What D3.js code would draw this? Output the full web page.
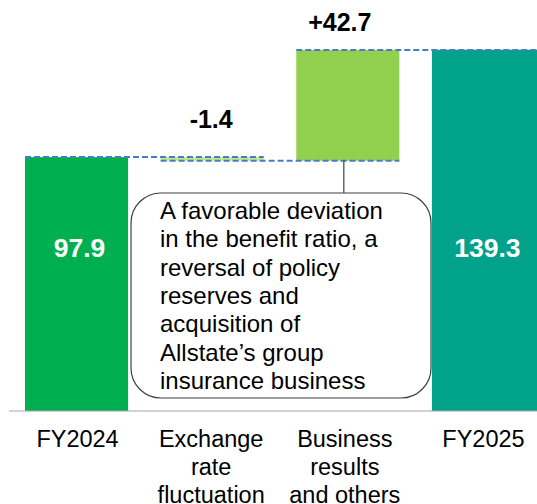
<!DOCTYPE html>
<html>
<head>
<meta charset="utf-8">
<script src="https://cdn.jsdelivr.net/npm/d3@7"></script>
<style>
  body { margin: 0; background: #fff; }
  svg { display: block; font-family: "Liberation Sans", Arial, sans-serif; }
</style>
</head>
<body>
<svg></svg>
<script>
// Data =======================================================================

const categories = ["FY2024", "Exchange rate fluctuation", "Business results and others", "FY2025"];
const catLines = [["FY2024"], ["Exchange", "rate", "fluctuation"], ["Business", "results", "and others"], ["FY2025"]];
const values = [97.9, -1.4, 42.7, 139.3];
const kinds = ["total", "delta", "delta", "total"];
const valueLabels = ["97.9", "-1.4", "+42.7", "139.3"];
const noteLines = ["A favorable deviation", "in the benefit ratio, a", "reversal of policy",
  "reserves and", "acquisition of", "Allstate\u2019s group", "insurance business"];

// Setup ======================================================================

const width = 537, height = 504;
const svg = d3.select("svg").attr("width", width).attr("height", height);

const x = d3.scaleBand()
  .domain(categories)
  .range([25, 535])
  .paddingInner(0.24)
  .paddingOuter(0);

const y = d3.scaleLinear()
  .domain([0, 150])
  .range([411, 22]);

// work out start/end for each step of the waterfall
let running = 0;
const steps = categories.map((c, i) => {
  let start, end;
  if (kinds[i] === "total") { start = 0; end = values[i]; running = values[i]; }
  else { start = running; end = running + values[i]; running = end; }
  return { cat: c, start, end, i };
});

const colors = ["#00B050", "#C0E88A", "#92D050", "#00A28A"];

// Bars =======================================================================

svg.selectAll("rect.bar")
  .data(steps)
  .enter()
  .append("rect")
  .attr("class", "bar")
  .attr("x", d => x(d.cat))
  .attr("width", (d, i) => i === 3 ? width - x(d.cat) : x.bandwidth())
  .attr("y", d => y(Math.max(d.start, d.end)))
  .attr("height", d => Math.abs(y(d.start) - y(d.end)))
  .attr("fill", (d, i) => colors[i]);

// Dashed connectors ==========================================================

const connectors = [
  { v: steps[0].end, a: 0, b: 1 },
  { v: steps[1].end, a: 1, b: 2 },
  { v: steps[2].end, a: 2, b: 3 }
];
svg.selectAll("line.conn")
  .data(connectors)
  .enter()
  .append("line")
  .attr("x1", d => x(categories[d.a]))
  .attr("x2", d => d.b === 3 ? width : x(categories[d.b]) + x.bandwidth())
  .attr("y1", d => y(d.v))
  .attr("y2", d => y(d.v))
  .attr("stroke", "#4A7CC6")
  .attr("stroke-width", 2)
  .attr("stroke-dasharray", "6,3");

// Axis line ==================================================================

svg.append("line")
  .attr("x1", 9).attr("x2", width)
  .attr("y1", y(0)).attr("y2", y(0))
  .attr("stroke", "#A6A6A6")
  .attr("stroke-width", 1.2);

// Value labels ===============================================================

const inside = i => i === 0 || i === 3;
svg.selectAll("text.val")
  .data(steps)
  .enter()
  .append("text")
  .attr("x", d => x(d.cat) + x.bandwidth() / 2 + [3, -1, -8, 4][d.i])
  .attr("y", d => inside(d.i) ? 257 : y(Math.max(d.start, d.end)) - [0, 29, 19, 0][d.i])
  .attr("text-anchor", "middle")
  .attr("font-size", d => inside(d.i) ? 26.5 : 25)
  .attr("font-weight", "bold")
  .attr("fill", d => inside(d.i) ? "#fff" : "#000")
  .text(d => valueLabels[d.i]);

// Category labels ============================================================

const catG = svg.selectAll("text.cat")
  .data(catLines)
  .enter()
  .append("text")
  .attr("text-anchor", "middle")
  .attr("font-size", 23.5)
  .attr("fill", "#000");

catG.selectAll("tspan")
  .data((d, i) => d.map(t => ({ t, i })))
  .enter()
  .append("tspan")
  .attr("x", d => x(categories[d.i]) + x.bandwidth() / 2 + [1, -1, -3, 0][d.i])
  .attr("y", (d, j) => 447 + j * 28)
  .text(d => d.t);

// Callout ====================================================================

const bx = x(categories[2]) + x.bandwidth() / 2 - 4;
svg.append("line")
  .attr("x1", bx).attr("x2", bx)
  .attr("y1", y(steps[2].start)).attr("y2", 193)
  .attr("stroke", "#404040")
  .attr("stroke-width", 1.2);

svg.append("rect")
  .attr("x", 131).attr("y", 193)
  .attr("width", 300).attr("height", 205)
  .attr("rx", 30).attr("ry", 30)
  .attr("fill", "#fff")
  .attr("stroke", "#404040")
  .attr("stroke-width", 1.2);

svg.append("text")
  .attr("font-size", 24)
  .attr("fill", "#000")
  .selectAll("tspan")
  .data(noteLines)
  .enter()
  .append("tspan")
  .attr("x", 160)
  .attr("y", (d, i) => 219 + i * 28.3)
  .text(d => d);
</script>
</body>
</html>
